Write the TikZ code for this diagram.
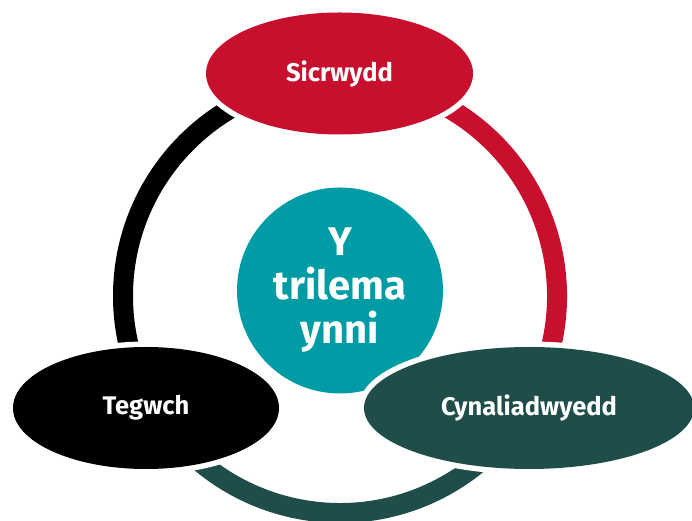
\documentclass[tikz,border=0pt]{standalone}
\usepackage{fontspec}
\setmainfont{Fira Sans}
\usetikzlibrary{shapes.geometric}
\definecolor{sicred}{HTML}{C8102E}
\definecolor{ynnteal}{HTML}{009CA6}
\definecolor{cyngreen}{HTML}{1F4D4A}
\begin{document}
\begin{tikzpicture}[x=1pt,y=1pt,
  pillar/.style={ellipse,inner sep=0pt,minimum height=122pt,text=white,
    font=\bfseries\fontsize{25.5}{30}\selectfont,preaction={draw=white,line width=11pt}},
  ringarc/.style={line width=20pt}]
\useasboundingbox (0,0) rectangle (692,521);
\pgfmathsetlengthmacro\ringrad{217pt}
\coordinate (ring) at (340,225);
\foreach \from/\to/\col in {90/210/black,210/330/cyngreen,330/450/sicred}
  \draw[ringarc,\col] (ring) ++(\from:\ringrad) arc[start angle=\from,end angle=\to,radius=\ringrad];
\node[circle,fill=ynnteal,minimum size=206pt,inner sep=0pt,text=white,align=center,
  font=\bfseries\fontsize{40}{44}\selectfont] (trilema) at (340,230.5) {Y\\trilema\\ynni};
\node[pillar,fill=sicred,minimum width=267pt] (sicrwydd) at (339.5,447.5) {Sicrwydd};
\node[pillar,fill=black,minimum width=266pt] (tegwch) at (146,113) {Tegwch};
\node[pillar,fill=cyngreen,minimum width=330pt] (cynaliad) at (529,113) {Cynaliadwyedd};
\end{tikzpicture}
\end{document}
